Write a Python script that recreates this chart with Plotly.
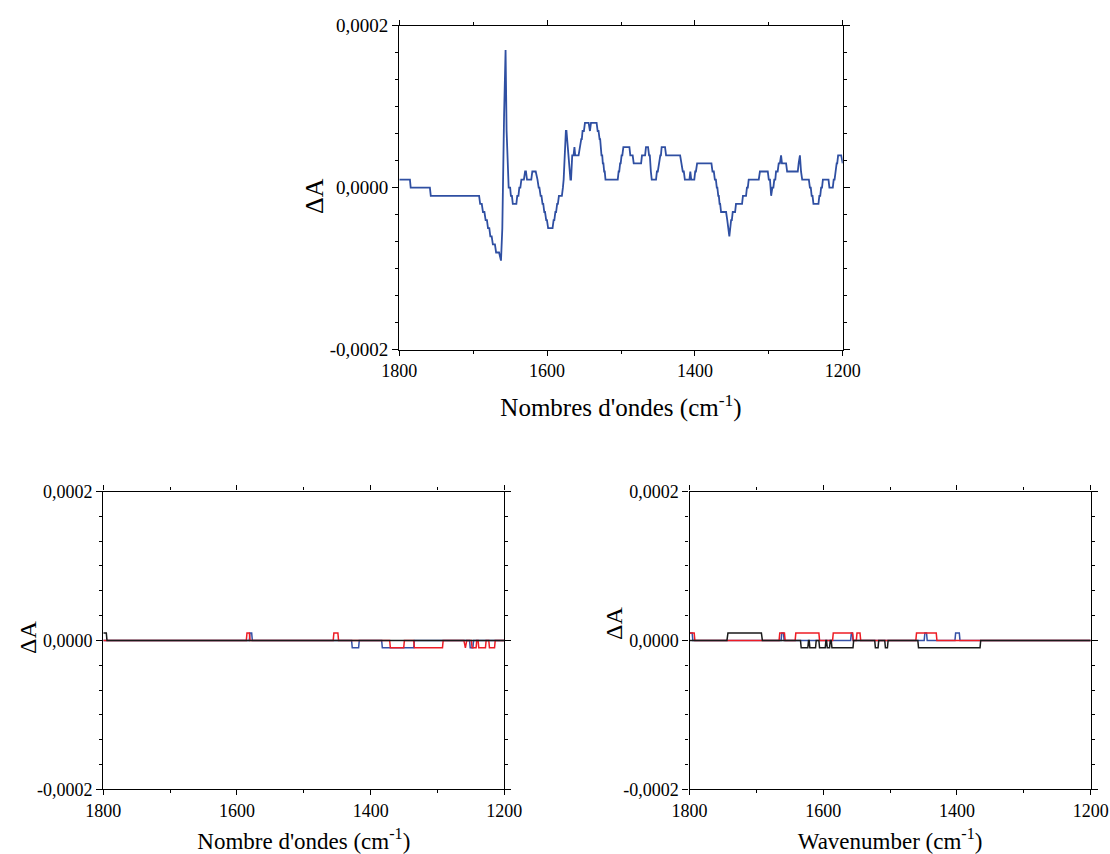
import plotly.graph_objects as go

# ---------------- data (dA values in units of 1e-5) ----------------
wn_top = [1800, 1785.6, 1784.6, 1758.6, 1757.4, 1692.0, 1690.6, 1688.4, 1686.8, 1684.8,
          1683.2, 1681.4, 1680.0, 1678.2, 1676.8, 1675.0, 1673.4, 1670.6, 1669.0, 1665.0,
          1662.4, 1660.6, 1658.2, 1657.0, 1656.2, 1654.8, 1653.0, 1652.0, 1650.0, 1649.0,
          1647.6, 1646.4, 1641.6, 1640.4, 1638.8, 1637.6, 1636.2, 1634.8, 1631.4, 1629.8,
          1628.6, 1627.2, 1621.4, 1620.0, 1615.4, 1614.0, 1613.0, 1611.4, 1610.4, 1608.8,
          1607.6, 1606.2, 1605.2, 1603.8, 1602.8, 1601.2, 1600.2, 1598.6, 1592.6, 1591.2,
          1590.2, 1588.8, 1587.8, 1586.4, 1585.4, 1584.0, 1580.0, 1578.6, 1577.6, 1574.6,
          1573.8, 1568.4, 1567.6, 1566.0, 1564.2, 1563.0, 1562.0, 1557.4, 1556.0, 1555.0,
          1553.8, 1553.0, 1552.0, 1550.2, 1548.8, 1543.8, 1542.0, 1540.6, 1533.0, 1531.6,
          1530.4, 1529.0, 1528.2, 1526.4, 1525.4, 1524.6, 1523.8, 1522.8, 1522.0, 1521.0,
          1504.4, 1503.2, 1502.4, 1501.2, 1500.4, 1499.2, 1498.2, 1496.8, 1488.6, 1487.4,
          1484.2, 1482.8, 1472.8, 1471.6, 1467.4, 1466.2, 1463.4, 1462.0, 1461.0, 1459.6,
          1458.4, 1452.6, 1451.4, 1450.2, 1449.0, 1448.0, 1446.8, 1446.0, 1445.0, 1440.4,
          1439.0, 1420.0, 1418.4, 1417.6, 1416.4, 1415.0, 1413.6, 1407.4, 1406.2, 1405.0,
          1400.8, 1399.6, 1398.6, 1397.0, 1377.6, 1376.2, 1374.4, 1373.0, 1371.6, 1370.4,
          1369.6, 1368.4, 1367.6, 1366.6, 1365.8, 1364.6, 1357.8, 1356.2, 1353.4, 1351.0,
          1350.0, 1348.8, 1345.6, 1344.4, 1336.2, 1335.0, 1330.8, 1329.6, 1328.4, 1327.2,
          1313.6, 1312.0, 1301.4, 1300.0, 1298.4, 1296.8, 1295.2, 1293.8, 1292.6, 1291.2,
          1290.2, 1288.0, 1286.6, 1285.0, 1283.4, 1282.2, 1276.6, 1275.2, 1260.8, 1259.6,
          1257.9, 1256.4, 1254.8, 1245.8, 1244.4, 1243.2, 1242.0, 1240.8, 1239.6, 1232.8,
          1231.6, 1230.4, 1229.2, 1228.0, 1226.8, 1219.2, 1218.0, 1213.4, 1212.2, 1211.0,
          1209.8, 1209.0, 1208.2, 1207.4, 1206.2, 1202.0, 1200.8, 1200.0]
dA_top = [1, 1, 0, 0, -1, -1, -2, -2, -3, -3,
          -4, -4, -5, -5, -6, -6, -7, -7, -8, -8,
          -9, -5, 9, 17, 17, 7, 1, 0, 0, -1,
          -1, -2, -2, -1, -1, 0, 0, 1, 1, 2,
          2, 1, 1, 2, 2, 1, 1, 0, 0, -1,
          -1, -2, -2, -3, -3, -4, -4, -5, -5, -4,
          -4, -3, -3, -2, -2, -1, -1, 0, 1, 7,
          7, 1, 1, 4, 4, 5, 4, 4, 5, 5,
          6, 6, 7, 7, 8, 8, 7, 8, 8, 7,
          7, 6, 6, 4, 4, 3, 3, 2, 2, 1,
          1, 2, 2, 3, 3, 4, 4, 5, 5, 4,
          4, 3, 3, 4, 4, 5, 5, 4, 4, 2,
          1, 1, 2, 2, 3, 3, 4, 4, 5, 5,
          4, 4, 3, 3, 2, 2, 1, 1, 2, 1,
          1, 2, 2, 3, 3, 2, 2, 1, 1, 0,
          0, -1, -1, -2, -2, -3, -3, -4, -6, -4,
          -4, -3, -3, -2, -2, -1, -1, 0, 0, 1,
          1, 2, 2, 1, 1, -1, 0, 0, 1, 1,
          2, 2, 3, 3, 4, 3, 3, 2, 2, 3,
          4, 2, 1, 1, 0, 0, -1, -1, -2, -2,
          -1, -1, 0, 0, 1, 1, 0, 0, 1, 1,
          2, 2, 3, 3, 4, 4, 3, 3]

# bottom-left panel
wn_bl_black = [1800, 1795.5, 1794.5, 1200]
dA_bl_black = [1, 1, 0, 0]
wn_bl_red = [1800, 1586, 1585, 1581.5, 1580.5, 1456, 1455, 1449, 1448, 1371.5, 1370.5, 1350.5,
             1349.5, 1335.5, 1334.5, 1292.5, 1291.5, 1260.5, 1258.2, 1256.2, 1249.2, 1248.2,
             1242.2, 1241.2, 1239.2, 1238.2, 1228.2, 1227.2, 1223.2, 1222.2, 1214.6, 1213.6, 1200]
dA_bl_red = [0, 0, 1, 1, 0, 0, 1, 1, 0, 0, -1, -1,
             0, 0, -1, -1, 0, 0, -1, 0, 0, -1,
             -1, 0, 0, -1, -1, 0, 0, -1, -1, 0, 0]
wn_bl_blue = [1800, 1581.5, 1580.5, 1578, 1577, 1428.5, 1427.5, 1418, 1417, 1383.5, 1382.5,
              1335.5, 1334.5, 1252, 1251, 1247, 1246, 1200]
dA_bl_blue = [0, 0, 1, 1, 0, 0, -1, -1, 0, 0, -1,
              -1, 0, 0, -1, -1, 0, 0]

# bottom-right panel
wn_br_black = [1800, 1744, 1742.5, 1692.5, 1691, 1634, 1633, 1623, 1622, 1621, 1620, 1611.5,
               1610.5, 1606.5, 1605.5, 1597, 1596, 1595, 1594, 1590.5, 1589.5, 1588, 1587,
               1555.5, 1554.5, 1523, 1522, 1518, 1517, 1508, 1507, 1504, 1503, 1458.5,
               1457.5, 1365.5, 1364.5, 1200]
dA_br_black = [0, 0, 1, 1, 0, 0, -1, -1, 0, 0, -1, -1,
               0, 0, -1, -1, 0, 0, -1, -1, 0, 0, -1,
               -1, 0, 0, -1, -1, 0, 0, -1, -1, 0, 0,
               -1, -1, 0, 0]
wn_br_red = [1800, 1793, 1792, 1666, 1665, 1658, 1657, 1642, 1641, 1606.5, 1605.5, 1586, 1585,
             1556, 1555, 1550.5, 1549.5, 1545, 1544, 1461.5, 1460.5, 1431, 1430, 1200]
dA_br_red = [1, 1, 0, 0, 1, 1, 0, 0, 1, 1, 0, 0, 1,
             1, 0, 0, 1, 1, 0, 0, 1, 1, 0, 0]
wn_br_blue = [1800, 1796, 1795, 1663, 1662, 1659.5, 1658.5, 1559, 1558, 1556.5, 1555.5,
              1449, 1448, 1445.5, 1444.5, 1403, 1402, 1396.5, 1395.5, 1200]
dA_br_blue = [1, 1, 0, 0, 1, 1, 0, 0, 1, 1, 0,
              0, 1, 1, 0, 0, 1, 1, 0, 0]

UNIT = 1e-5
x_tickvals = [1800, 1600, 1400, 1200]
x_ticktext = ["1800", "1600", "1400", "1200"]
x_minor = [1700, 1500, 1300]
y_tickvals = [-0.0002, 0.0, 0.0002]
y_ticktext = ["-0,0002", "0,0000", "0,0002"]
y_minor = [k * 0.0002 / 6 for k in range(-5, 6) if k != 0]
y_title = "ΔA"

BLUE_TOP = "#2F4FA2"
RED = "#EE1C25"
BLUE = "#3551A6"
BLACK = "#1A1A1A"
FONT = "Times New Roman, Liberation Serif, serif"


def scale(vals):
    return [v * UNIT for v in vals]


fig = go.Figure()
fig.add_trace(go.Scatter(x=wn_top, y=scale(dA_top), mode="lines",
                         line=dict(color=BLUE_TOP, width=1.8), xaxis="x", yaxis="y"))
for wn, dA, col in [(wn_bl_blue, dA_bl_blue, BLUE), (wn_bl_red, dA_bl_red, RED),
                    (wn_bl_black, dA_bl_black, BLACK)]:
    fig.add_trace(go.Scatter(x=wn, y=scale(dA), mode="lines",
                             line=dict(color=col, width=1.5), xaxis="x2", yaxis="y2"))
for wn, dA, col in [(wn_br_blue, dA_br_blue, BLUE), (wn_br_red, dA_br_red, RED),
                    (wn_br_black, dA_br_black, BLACK)]:
    fig.add_trace(go.Scatter(x=wn, y=scale(dA), mode="lines",
                             line=dict(color=col, width=1.5), xaxis="x3", yaxis="y3"))

W, H = 1110, 854


def xax(dom, anchor, title, tsize, lsize, standoff):
    return dict(domain=[dom[0] / W, dom[1] / W], anchor=anchor, range=[1800, 1200],
                automargin=False,
                tickmode="array", tickvals=x_tickvals, ticktext=x_ticktext,
                ticks="outside", ticklen=5, tickwidth=1.2, tickcolor="black",
                minor=dict(tickmode="array", tickvals=x_minor, ticks="outside", ticklen=3,
                           tickwidth=1.2, tickcolor="black"),
                showline=True, linecolor="black", linewidth=1.3, mirror="ticks",
                showgrid=False, zeroline=False,
                tickfont=dict(family=FONT, size=lsize, color="black"),
                title=dict(text=title, font=dict(family=FONT, size=tsize, color="black"),
                           standoff=standoff))


def yax(dom, anchor, lsize):
    return dict(domain=[1 - dom[1] / H, 1 - dom[0] / H], anchor=anchor,
                range=[-0.0002, 0.0002], automargin=False,
                tickmode="array", tickvals=y_tickvals, ticktext=y_ticktext,
                ticks="outside", ticklen=6, tickwidth=1.2, tickcolor="black",
                minor=dict(tickmode="array", tickvals=y_minor, ticks="outside", ticklen=3,
                           tickwidth=1.2, tickcolor="black"),
                showline=True, linecolor="black", linewidth=1.3, mirror="ticks",
                showgrid=False, zeroline=False,
                tickfont=dict(family=FONT, size=lsize, color="black"))


def ytitle(px, py, size):
    return dict(text=y_title, xref="paper", yref="paper", x=px / W, y=1 - py / H,
                xanchor="center", yanchor="middle", textangle=-90, showarrow=False,
                font=dict(family=FONT, size=size, color="black"))


fig.update_layout(
    width=W, height=H, autosize=False,
    margin=dict(l=0, r=0, t=0, b=0),
    paper_bgcolor="white", plot_bgcolor="white",
    showlegend=False,
    font=dict(family=FONT, color="black"),
    xaxis=xax((399.3, 842.7), "y", "Nombres d'ondes (cm<sup>-1</sup>)", 25, 18, 18),
    yaxis=yax((25.7, 349.7), "x", 19),
    xaxis2=xax((103.3, 504.3), "y2", "Nombre d'ondes (cm<sup>-1</sup>)", 23, 18, 12),
    yaxis2=yax((491.5, 789.3), "x2", 18),
    xaxis3=xax((689.5, 1090.7), "y3", "Wavenumber (cm<sup>-1</sup>)", 23, 18, 12),
    yaxis3=yax((491.5, 789.3), "x3", 18),
    annotations=[ytitle(314, 196, 26), ytitle(28, 638, 24), ytitle(614, 624, 24)],
)

fig.write_html(
    "out.html",
    config={"displayModeBar": False},
    post_script="document.body.style.margin='0';document.body.style.padding='0';"
                "document.body.style.overflow='hidden';",
)
